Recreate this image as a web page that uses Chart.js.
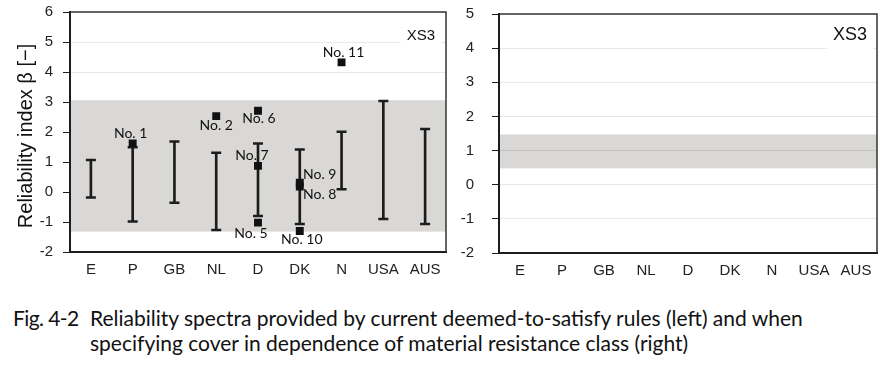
<!DOCTYPE html>
<html>
<head>
<meta charset="utf-8">
<script src="https://cdn.jsdelivr.net/npm/chart.js@4.4.0/dist/chart.umd.min.js"></script>
<style>
  body { margin: 0; background: #fff; width: 895px; height: 365px; position: relative; overflow: hidden; }
  #cajaIzq { position: absolute; left: 0; top: 0; width: 460px; height: 285px; }
  #cajaDer { position: absolute; left: 460px; top: 0; width: 435px; height: 285px; }
  #leyenda { position: absolute; left: 13px; top: 305px; display: flex; font-family: Lato, sans-serif; font-size: 21px; line-height: 25px; color: #111; white-space: nowrap; }
  #leyenda .fig { width: 77px; flex: none; letter-spacing: -0.6px; }
</style>
</head>
<body>
<div id="cajaIzq"><canvas id="graficoIzq"></canvas></div>
<div id="cajaDer"><canvas id="graficoDer"></canvas></div>
<div id="leyenda">
  <span class="fig">Fig. 4-2</span>
  <span class="txt">Reliability spectra provided by current deemed-to-satisfy rules (left) and when<br>specifying cover in dependence of material resistance class (right)</span>
</div>
<script>
// datos
var paises = ['E', 'P', 'GB', 'NL', 'D', 'DK', 'N', 'USA', 'AUS'];
var betaMin = [-0.18, -0.98, -0.36, -1.27, -0.80, -1.07, 0.09, -0.90, -1.07];
var betaMax = [1.07, 1.49, 1.68, 1.31, 1.62, 1.42, 2.01, 3.03, 2.10];

var puntosNombre = ['No. 1', 'No. 2', 'No. 5', 'No. 6', 'No. 7', 'No. 8', 'No. 9', 'No. 10', 'No. 11'];
var puntosPais = ['P', 'NL', 'D', 'D', 'D', 'DK', 'DK', 'DK', 'N'];
var puntosBeta = [1.62, 2.53, -1.02, 2.71, 0.87, 0.18, 0.31, -1.30, 4.32];

var bandaIzq = [-1.32, 3.06];
var bandaDer = [0.48, 1.47];
var ejeIzq = [-2, 6];
var ejeDer = [-2, 5];
var claseTexto = 'XS3';
var tituloY = 'Reliability index \u03b2 [\u2212]';

// desplazamiento de las etiquetas (px) respecto al punto
var etiquetaDx = [-2, 0, -7, 1, -6, 20, 20, 2, 2];
var etiquetaDy = [-10, 9, 11, 8, -10, 8, -8, 8, -10];

var negro = '#1c1c1c';
var gris = '#d9d8d6';
var fuenteEje = { family: "'Liberation Sans', Arial, sans-serif", size: 15 };

function pluginBanda(banda) {
  return {
    id: 'banda',
    beforeDatasetsDraw: function(chart) {
      var ctx = chart.ctx, a = chart.chartArea, y = chart.scales.y;
      var y1 = y.getPixelForValue(banda[1]), y0 = y.getPixelForValue(banda[0]);
      ctx.save();
      ctx.fillStyle = gris;
      ctx.fillRect(a.left, y1, a.right - a.left, y0 - y1);
      ctx.restore();
    }
  };
}

function pluginMarco(cfg) {
  return {
    id: 'marco',
    afterDraw: function(chart) {
      var ctx = chart.ctx, a = chart.chartArea;
      ctx.save();
      // caja blanca con XS3
      ctx.font = cfg.fuente + 'px "Liberation Sans", Arial, sans-serif';
      var w = ctx.measureText(claseTexto).width;
      var xr = a.right - cfg.margen;
      ctx.fillStyle = '#fff';
      ctx.fillRect(xr - w - cfg.caja, a.top + 1, w + 2 * cfg.caja, cfg.alto);
      ctx.fillStyle = '#111';
      ctx.textAlign = 'right';
      ctx.textBaseline = 'middle';
      ctx.fillText(claseTexto, xr, a.top + cfg.dy);
      // borde superior y derecho
      ctx.strokeStyle = '#333';
      ctx.lineWidth = 1.5;
      ctx.beginPath();
      ctx.moveTo(a.left, a.top);
      ctx.lineTo(a.right, a.top);
      ctx.lineTo(a.right, a.bottom);
      ctx.stroke();
      ctx.restore();
    }
  };
}

var etiquetas = {
  id: 'etiquetas',
  afterDatasetsDraw: function(chart) {
    var ctx = chart.ctx;
    var meta = chart.getDatasetMeta(0);
    ctx.save();
    ctx.font = '14px Lato, sans-serif';
    ctx.fillStyle = '#111';
    ctx.textAlign = 'center';
    ctx.textBaseline = 'middle';
    meta.data.forEach(function(p, i) {
      ctx.fillText(puntosNombre[i], p.x + etiquetaDx[i], p.y + etiquetaDy[i]);
    });
    // titulo del eje y
    ctx.font = '20px "Liberation Sans", Arial, sans-serif';
    ctx.translate(26, 136);
    ctx.rotate(-Math.PI / 2);
    ctx.fillText(tituloY, 0, 0);
    ctx.restore();
  }
};

function escalas(rango, anchoY, altoX, padY) {
  return {
    x: {
      offset: true,
      grid: { display: false, drawTicks: false },
      border: { display: true, color: negro, width: 2 },
      ticks: { color: '#222', font: fuenteEje, padding: 9 },
      afterFit: function(s) { s.height = altoX; s.paddingLeft = 0; s.paddingRight = 0; }
    },
    y: {
      min: rango[0],
      max: rango[1],
      grid: { color: 'rgba(0,0,0,0.09)', tickColor: negro, tickLength: 7, lineWidth: 1 },
      border: { display: true, color: negro, width: 2, z: 1 },
      ticks: { stepSize: 1, color: '#222', font: fuenteEje, padding: padY },
      afterFit: function(s) { s.width = anchoY; s.paddingTop = 0; s.paddingBottom = 0; }
    }
  };
}

Chart.defaults.animation = false;
Chart.defaults.plugins.legend.display = false;
Chart.defaults.plugins.tooltip.enabled = false;

new Chart(document.getElementById('graficoIzq'), {
  type: 'bar',
  data: {
    labels: paises,
    datasets: [
      {
        type: 'line',
        data: puntosPais.map(function(p, i) { return { x: p, y: puntosBeta[i] }; }),
        showLine: false,
        pointStyle: 'rect',
        pointRadius: 5.6,
        pointBackgroundColor: '#111',
        pointBorderWidth: 0
      },
      {
        type: 'line',
        data: betaMax,
        showLine: false,
        pointStyle: 'line',
        pointRadius: 5,
        pointBorderWidth: 2.5,
        pointBorderColor: negro
      },
      {
        type: 'line',
        data: betaMin,
        showLine: false,
        pointStyle: 'line',
        pointRadius: 5,
        pointBorderWidth: 2.5,
        pointBorderColor: negro
      },
      {
        data: paises.map(function(p, i) { return [betaMin[i], betaMax[i]]; }),
        backgroundColor: negro,
        barThickness: 2
      }
    ]
  },
  options: {
    responsive: true,
    maintainAspectRatio: false,
    layout: { padding: { left: 0, right: 14, top: 12, bottom: 0 } },
    scales: escalas(ejeIzq, 70, 33, 10)
  },
  plugins: [pluginBanda(bandaIzq), etiquetas, pluginMarco({ fuente: 15, margen: 11, caja: 6, alto: 31, dy: 24 })]
});

new Chart(document.getElementById('graficoDer'), {
  type: 'bar',
  data: {
    labels: paises,
    datasets: [{ data: [] }]
  },
  options: {
    responsive: true,
    maintainAspectRatio: false,
    layout: { padding: { left: 0, right: 18, top: 14, bottom: 0 } },
    scales: escalas(ejeDer, 39, 32, 18)
  },
  plugins: [{
    id: 'bandaDer',
    beforeDraw: function(chart) {
      var ctx = chart.ctx, a = chart.chartArea, y = chart.scales.y;
      var y1 = y.getPixelForValue(bandaDer[1]), y0 = y.getPixelForValue(bandaDer[0]);
      ctx.save();
      ctx.fillStyle = gris;
      ctx.fillRect(a.left, y1, a.right - a.left, y0 - y1);
      ctx.restore();
    }
  }, pluginMarco({ fuente: 18, margen: 10, caja: 6, alto: 37, dy: 21 })]
});
</script>
</body>
</html>
